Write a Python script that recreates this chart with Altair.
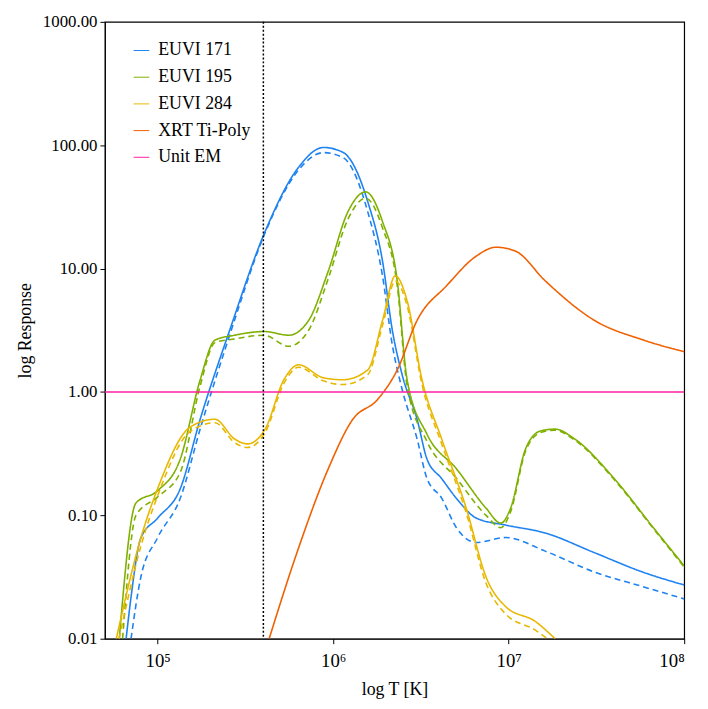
import altair as alt
import pandas as pd

# log10 T and log10 response
t195 = [4.781, 4.876, 5.0, 5.129, 5.242, 5.326, 5.438, 5.607, 5.747, 5.860, 5.972, 6.084, 6.185, 6.281, 6.365, 6.421, 6.534, 6.702, 6.871, 6.955, 7.011, 7.096, 7.180, 7.264, 7.376, 7.601, 7.826, 8.006]
r195 = [-2.0, -0.90, -0.80, -0.542, 0.099, 0.420, 0.460, 0.490, 0.460, 0.580, 0.980, 1.461, 1.622, 1.381, 0.901, 0.099, -0.341, -0.622, -0.942, -1.063, -0.942, -0.462, -0.317, -0.301, -0.381, -0.702, -1.103, -1.42]
t195d = [4.80] + t195[1:]
r195d = [-2.0, -1.0, -0.85, -0.65, 0.05, 0.40, 0.43, 0.46, 0.37, 0.50, 0.92, 1.40, 1.57, 1.33, 0.86, 0.05, -0.40, -0.70, -1.00, -1.10, -0.97, -0.48, -0.33, -0.31, -0.39, -0.71, -1.11, -1.43]

t171 = [4.820, 4.848, 4.904, 5.0, 5.129, 5.242, 5.410, 5.612, 5.803, 5.944, 6.056, 6.197, 6.281, 6.337, 6.393, 6.478, 6.534, 6.618, 6.702, 6.815, 6.983, 7.208, 7.489, 7.770, 8.006]
r171 = [-2.0, -1.663, -1.183, -1.022, -0.782, -0.221, 0.500, 1.301, 1.822, 1.982, 1.942, 1.542, 1.061, 0.500, 0.139, -0.221, -0.542, -0.702, -0.862, -1.022, -1.079, -1.143, -1.303, -1.463, -1.567]
t171d = [4.848, 4.904, 5.0, 5.129, 5.242, 5.410, 5.612, 5.803, 5.944, 6.056, 6.197, 6.281, 6.337, 6.393, 6.478, 6.534, 6.618, 6.702, 6.815, 6.983, 7.208, 7.489, 7.770, 8.006]
r171d = [-2.0, -1.50, -1.18, -0.86, -0.30, 0.46, 1.29, 1.80, 1.94, 1.90, 1.46, 0.94, 0.38, 0.02, -0.38, -0.70, -0.86, -1.10, -1.22, -1.18, -1.29, -1.46, -1.58, -1.68]

t284 = [4.764, 4.904, 5.0, 5.185, 5.326, 5.438, 5.511, 5.612, 5.719, 5.803, 5.944, 6.056, 6.197, 6.281, 6.354, 6.421, 6.506, 6.618, 6.758, 6.871, 6.983, 7.152, 7.264]
r284 = [-2.0, -1.183, -0.782, -0.285, -0.221, -0.381, -0.421, -0.301, 0.099, 0.220, 0.115, 0.099, 0.179, 0.580, 0.941, 0.740, 0.099, -0.381, -0.942, -1.50, -1.74, -1.86, -2.0]
t284d = [4.78] + t284[1:-1] + [7.22]
r284d = [-2.0, -1.25, -0.84, -0.32, -0.25, -0.41, -0.45, -0.33, 0.07, 0.20, 0.09, 0.06, 0.14, 0.54, 0.90, 0.70, 0.06, -0.42, -0.98, -1.55, -1.80, -1.93, -2.0]

txrt = [5.635, 5.803, 5.972, 6.112, 6.253, 6.365, 6.478, 6.646, 6.815, 6.927, 7.039, 7.208, 7.489, 7.770, 8.006]
rxrt = [-2.0, -1.263, -0.622, -0.221, -0.061, 0.179, 0.580, 0.861, 1.101, 1.173, 1.141, 0.901, 0.580, 0.420, 0.324]

tem = [4.6, 8.0]
rem = [0.0, 0.0]

names = ["EUVI 171", "EUVI 195", "EUVI 284", "XRT Ti-Poly", "Unit EM"]
colors = ["#1e82f0", "#7fb000", "#e8b800", "#f06000", "#ff20a0"]

rows = []
for name, style, ts, rs in [
    ("EUVI 171", "solid", t171, r171), ("EUVI 171", "dash", t171d, r171d),
    ("EUVI 195", "solid", t195, r195), ("EUVI 195", "dash", t195d, r195d),
    ("EUVI 284", "solid", t284, r284), ("EUVI 284", "dash", t284d, r284d),
    ("XRT Ti-Poly", "solid", txrt, rxrt), ("Unit EM", "solid", tem, rem),
]:
    for i, (t, r) in enumerate(zip(ts, rs)):
        rows.append({"series": name, "style": style, "key": name + style, "i": i,
                     "T": 10 ** t, "R": 10 ** r})
df = pd.DataFrame(rows)

font = "Liberation Serif"
xscale = alt.Scale(type="log", domain=[5e4, 1e8], nice=False)
yscale = alt.Scale(type="log", domain=[0.01, 1000], nice=False)

lines = alt.Chart(df).mark_line(interpolate="monotone", strokeWidth=1.6, clip=True).encode(
    x=alt.X("T:Q", scale=xscale, title="log T [K]",
            axis=alt.Axis(values=[1e5, 1e6, 1e7, 1e8], grid=False, tickSize=5, tickColor="black",
                          labelExpr="'10' + ['⁵','⁶','⁷','⁸'][round(log(datum.value)/LN10)-5]",
                          labelFontSize=19, labelPadding=8, titlePadding=10)),
    y=alt.Y("R:Q", scale=yscale, title="log Response",
            axis=alt.Axis(values=[0.01, 0.1, 1, 10, 100, 1000], format=".2f", grid=False,
                          tickSize=5, tickColor="black", labelPadding=3, titlePadding=8,
                          labelFontSize=17)),
    color=alt.Color("series:N", scale=alt.Scale(domain=names, range=colors),
                    legend=alt.Legend(title=None, orient="none", legendX=28, legendY=20,
                                      symbolType="stroke", symbolSize=250, symbolStrokeWidth=1,
                                      labelFontSize=18, labelFont=font,
                                      rowPadding=9, labelOffset=8)),
    strokeDash=alt.StrokeDash("style:N", scale=alt.Scale(domain=["solid", "dash"], range=[[1, 0], [6, 4]]),
                              legend=None),
    detail="key:N",
    order="i:Q",
)

vline = alt.Chart(pd.DataFrame({"T": [4e5]})).mark_rule(color="black", strokeDash=[2, 2], strokeWidth=1.5).encode(x="T:Q")

chart = alt.layer(lines, vline).properties(
    width=586, height=624,
    autosize=alt.AutoSizeParams(type="none"),
    padding={"left": 98, "top": 10, "right": 16, "bottom": 60},
).configure_view(stroke="black", strokeWidth=1.2).configure_axis(
    labelFont=font, titleFont=font, labelFontSize=18, titleFontSize=18,
    labelFontWeight="normal", titleFontWeight="normal",
    labelColor="black", titleColor="black", domainColor="black",
)

chart.save("out.html", embed_options={"renderer": "svg", "actions": False})
